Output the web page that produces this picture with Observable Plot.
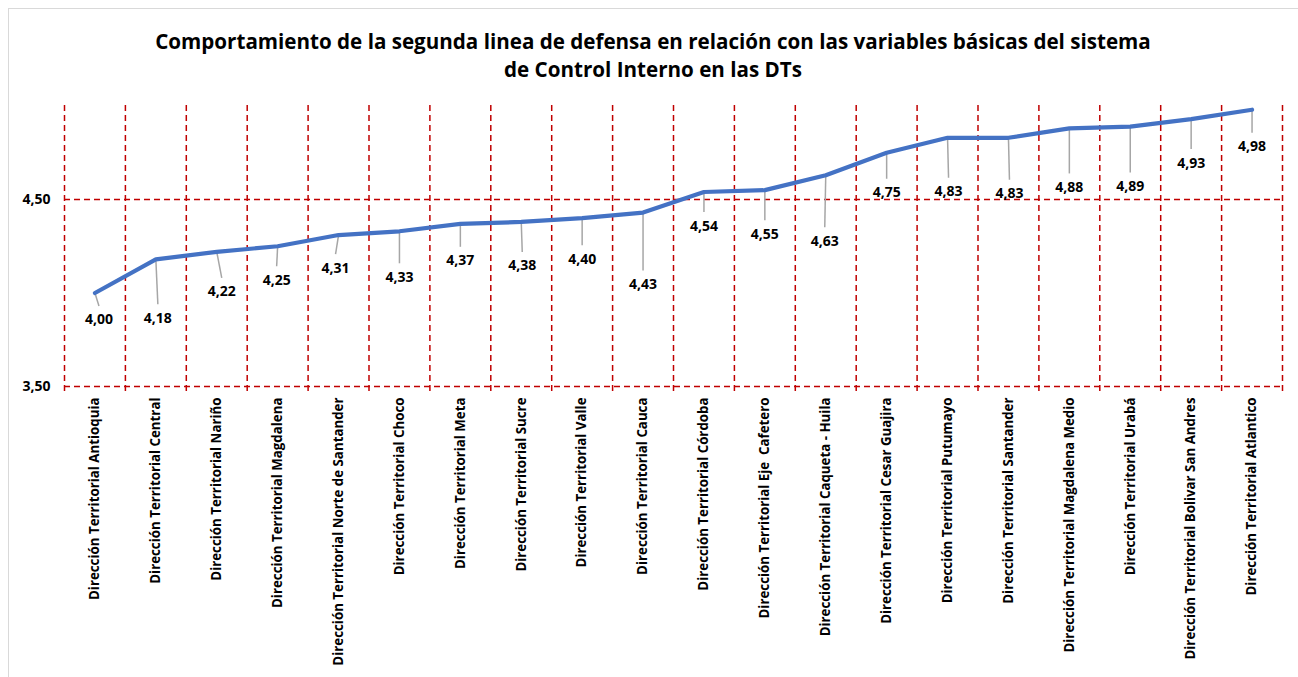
<!DOCTYPE html>
<html><head><meta charset="utf-8">
<script src="https://cdn.jsdelivr.net/npm/d3@7"></script>
<script src="https://cdn.jsdelivr.net/npm/@observablehq/plot@0.6"></script>
<style>
body{margin:0;background:#fff;font-family:"Open Sans",sans-serif;}
#wrap{position:relative;width:1298px;height:677px;overflow:hidden;background:#fff;}
#frame{position:absolute;left:8px;top:8px;width:1300px;height:700px;border:1px solid #d9d9d9;box-sizing:border-box;}
#title{position:absolute;left:0;top:0;width:1306px;height:95px;text-align:center;font-weight:bold;font-size:20.6px;line-height:28px;padding-top:27px;box-sizing:border-box;color:#000;}
#chart{position:absolute;left:0;top:95px;}
</style></head>
<body>
<div id="wrap">
<div id="frame"></div>
<div id="title">Comportamiento de la segunda linea de defensa en relación con las variables básicas del sistema<br>de Control Interno en las DTs</div>
<div id="chart"></div>
</div>
<script>
const categories = [
  "Dirección Territorial Antioquia",
  "Dirección Territorial Central",
  "Dirección Territorial Nariño",
  "Dirección Territorial Magdalena",
  "Dirección Territorial Norte de Santander",
  "Dirección Territorial Choco",
  "Dirección Territorial Meta",
  "Dirección Territorial Sucre",
  "Dirección Territorial Valle",
  "Dirección Territorial Cauca",
  "Dirección Territorial Córdoba",
  "Dirección Territorial Eje  Cafetero",
  "Dirección Territorial Caqueta - Huila",
  "Dirección Territorial Cesar Guajira",
  "Dirección Territorial Putumayo",
  "Dirección Territorial Santander",
  "Dirección Territorial Magdalena Medio",
  "Dirección Territorial Urabá",
  "Dirección Territorial Bolivar San Andres",
  "Dirección Territorial Atlantico"
];
const values = [4.00,4.18,4.22,4.25,4.31,4.33,4.37,4.38,4.40,4.43,4.54,4.55,4.63,4.75,4.83,4.83,4.88,4.89,4.93,4.98];
const yTicks = [3.5, 4.5];
// data-label layout (pixels): horizontal shift and drop below the point
const labelDx = [4,2,5,-1,-3,0,0,1,0,0,0,0,-1,0,1,1,0,0,0,0];
const labelDrop = [27,59,40,34,33,46,37,44,41,72,34,44,66,40,54,56,59,60,44,37];

const W = 1298, H = 582, mL = 64, mR = 16, mT = 10.5, mB = 291;
const yDomain = [3.5, 5.0];
const pxPerUnitY = (H - mT - mB) / (yDomain[1] - yDomain[0]);
const pxPerUnitX = (W - mL - mR) / categories.length;
const fmt = v => d3.format(".2f")(v).replace(".", ",");

const data = values.map((v, i) => ({
  i: i + 0.5,
  v,
  lx: i + 0.5 + labelDx[i] / pxPerUnitX,
  ly: v - labelDrop[i] / pxPerUnitY,
  lyTop: v - (labelDrop[i] - 14) / pxPerUnitY
}));

const red = "#c00000";
const chart = Plot.plot({
  width: W, height: H,
  marginLeft: mL, marginRight: mR, marginTop: mT, marginBottom: mB,
  style: {fontFamily: '"Open Sans", sans-serif', color: "#000", background: "transparent"},
  x: {domain: [0, categories.length]},
  y: {domain: yDomain},
  marks: [
    Plot.ruleY(yTicks, {stroke: red, strokeWidth: 1.5, strokeDasharray: "6,4"}),
    Plot.ruleX(d3.range(categories.length + 1), {y1: 3.5 - 5 / pxPerUnitY, y2: 5.0 + 1.5 / pxPerUnitY, stroke: red, strokeWidth: 1.5, strokeDasharray: "6,4"}),
    Plot.link(data, {x1: "i", y1: "v", x2: "lx", y2: "lyTop", stroke: "#a6a6a6", strokeWidth: 1.5}),
    Plot.line(data, {x: "i", y: "v", stroke: "#4472c4", strokeWidth: 4.2, strokeLinejoin: "round", strokeLinecap: "round"}),
    Plot.text(data, {x: "lx", y: "ly", text: d => fmt(d.v), fontWeight: "bold", fontSize: 14, fill: "#000"}),
    Plot.axisY(yTicks, {tickFormat: fmt, tickSize: 0, tickPadding: 14, fontWeight: "bold", fontSize: 14, fill: "#000"}),
    Plot.axisX(d3.range(categories.length).map(i => i + 0.5), {
      tickFormat: d => categories[Math.floor(d)], tickRotate: -90, tickSize: 0, tickPadding: 11,
      fontWeight: "bold", fontSize: 13.3, fill: "#000"
    })
  ]
});
document.getElementById("chart").appendChild(chart);
</script>
</body></html>
